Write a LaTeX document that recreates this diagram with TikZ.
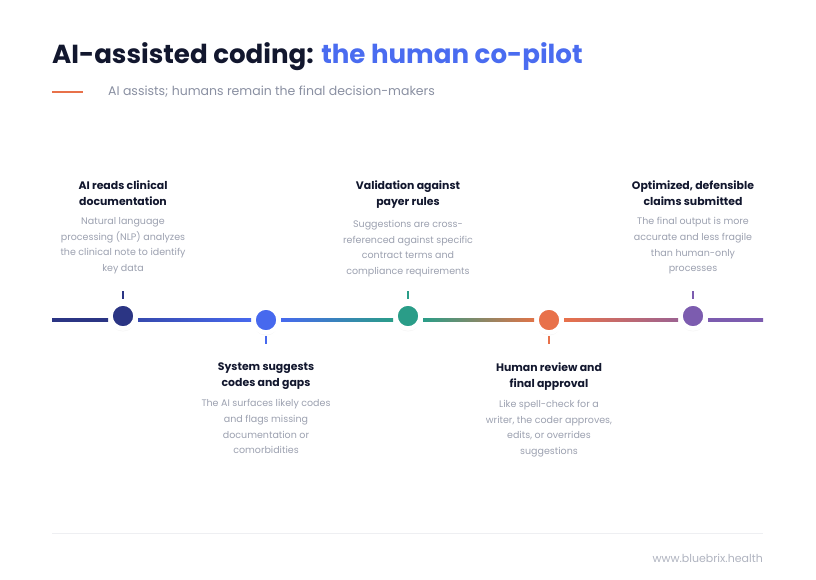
\documentclass[tikz,border=0pt]{standalone}
\usepackage{fontspec}
\setmainfont{Poppins}
\usetikzlibrary{calc,shadows}
\definecolor{navy}{HTML}{2B3584}
\definecolor{cblue}{HTML}{4769EE}
\definecolor{cteal}{HTML}{2A9D88}
\definecolor{corange}{HTML}{E8714A}
\definecolor{cpurple}{HTML}{7C5CAF}
\definecolor{darktext}{HTML}{12172E}
\definecolor{titleblue}{HTML}{4A6CF0}
\definecolor{greytext}{HTML}{9CA1B0}
\definecolor{subgrey}{RGB}{138,144,162}
\definecolor{rulegrey}{HTML}{EEEFF2}
\begin{document}
\begin{tikzpicture}[x=1pt,y=-1pt,
  dot/.style={circle, inner sep=0pt, minimum size=25pt, draw=white, line width=4.5pt, fill=#1,
    drop shadow={opacity=0.07, shadow xshift=0pt, shadow yshift=-3pt}},
  steptitle/.style={align=center, inner sep=0pt, text=darktext,
    font=\fontsize{10.9}{16}\selectfont\bfseries},
  stepdesc/.style={align=center, inner sep=0pt, text=greytext,
    font=\fontsize{9.5}{15.7}\selectfont},
  tick/.style={line width=1.6pt}
]
\useasboundingbox[fill=white] (0,0) rectangle (816,580);

% heading
\node[anchor=base west, inner sep=0pt, font=\fontsize{26.1}{30}\selectfont\bfseries, text=darktext] (title) at (52,64)
  {AI-assisted coding: \textcolor{titleblue}{the human co-pilot}};
\coordinate (subl1) at (52,92);
\coordinate (subl2) at (83,92);
\fill[corange] ($(subl1)+(0,-0.8)$) rectangle ($(subl2)+(0,0.8)$);
\node[anchor=base west, inner sep=0pt, font=\fontsize{12.5}{15}\selectfont] (subtitle) at (108,95.5)
  {\textcolor{subgrey}{AI assists; humans remain the final decision-makers}};

% timeline ends
\coordinate (start) at (52,320);
\coordinate (end) at (763,320);

% dots
\node[dot=navy] (c1) at (123,316) {};
\node[dot=cblue] (c2) at (266,320) {};
\node[dot=cteal] (c3) at (408,316) {};
\node[dot=corange] (c4) at (549,320) {};
\node[dot=cpurple] (c5) at (693,316) {};

% line segments
\shade[left color=navy, right color=navy] ($(start)+(0,-1.5)$) rectangle ($(c1.center|-start)+(-15,1.5)$);
\shade[left color=navy!60!cblue, right color=cblue] ($(c1.center|-start)+(15,-1.5)$) rectangle ($(c2.center)+(-15,1.5)$);
\shade[left color=cblue, right color=cteal] ($(c2.center)+(15,-1.5)$) rectangle ($(c3.center|-start)+(-15,1.5)$);
\shade[left color=cteal, right color=corange!80!brown] ($(c3.center|-start)+(15,-1.5)$) rectangle ($(c4.center)+(-15,1.5)$);
\shade[left color=corange, right color=cpurple!70!corange] ($(c4.center)+(15,-1.5)$) rectangle ($(c5.center|-start)+(-15,1.5)$);
\shade[left color=cpurple, right color=cpurple] ($(c5.center|-start)+(15,-1.5)$) rectangle ($(end)+(0,1.5)$);

% ticks
\draw[tick, navy] ($(c1.center)+(0,-25)$) -- ($(c1.center)+(0,-17)$);
\draw[tick, cblue] ($(c2.center)+(0,16)$) -- ($(c2.center)+(0,24)$);
\draw[tick, cteal] ($(c3.center)+(0,-25)$) -- ($(c3.center)+(0,-17)$);
\draw[tick, corange] ($(c4.center)+(0,16)$) -- ($(c4.center)+(0,24)$);
\draw[tick, cpurple] ($(c5.center)+(0,-25)$) -- ($(c5.center)+(0,-17)$);

% top texts
\node[steptitle, anchor=north] (t1) at (123,181) {AI reads clinical\\documentation};
\node[stepdesc, anchor=north] (d1) at ($(t1.south)+(0,11)$) {Natural language\\processing (NLP) analyzes\\the clinical note to identify\\key data};
\node[steptitle, anchor=north] (t3) at (408,181) {Validation against\\payer rules};
\node[stepdesc, anchor=north] (d3) at ($(t3.south)+(0,11)$) {Suggestions are cross-\\referenced against specific\\contract terms and\\compliance requirements};
\node[steptitle, anchor=north] (t5) at (693,181) {Optimized, defensible\\claims submitted};
\node[stepdesc, anchor=north] (d5) at ($(t5.south)+(0,11)$) {The final output is more\\accurate and less fragile\\than human-only\\processes};

% bottom texts
\node[steptitle, anchor=north] (t2) at (266,363) {System suggests\\codes and gaps};
\node[stepdesc, anchor=north] (d2) at ($(t2.south)+(0,9)$) {The AI surfaces likely codes\\and flags missing\\documentation or\\comorbidities};
\node[steptitle, anchor=north] (t4) at (549,363) {Human review and\\final approval};
\node[stepdesc, anchor=north] (d4) at ($(t4.south)+(0,9)$) {Like spell-check for a\\writer, the coder approves,\\edits, or overrides\\suggestions};

% footer
\coordinate (r1) at (52,533);
\coordinate (r2) at (763,533);
\draw[rulegrey, line width=1pt] (r1) -- (r2);
\node[anchor=east, inner sep=0pt, font=\fontsize{11}{13}\selectfont, text=greytext!80] (footer) at (763,558) {www.bluebrix.health};
\end{tikzpicture}
\end{document}
